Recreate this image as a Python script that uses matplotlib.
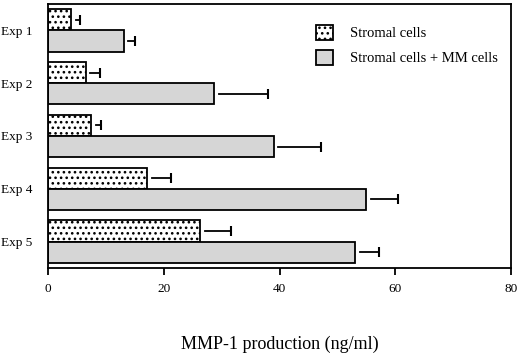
import matplotlib
matplotlib.use("Agg")
import matplotlib.pyplot as plt
import numpy as np
from matplotlib.patches import Patch

experiments = ["Exp 1", "Exp 2", "Exp 3", "Exp 4", "Exp 5"]
stromal = [4.0, 6.5, 7.5, 17.1, 26.3]
stromal_err = [1.5, 2.5, 1.6, 4.1, 5.3]
mm = [13.1, 28.7, 39.0, 55.0, 53.1]
mm_err = [2.0, 9.3, 8.1, 5.5, 4.1]
xticks = [0, 20, 40, 60, 80]

plt.rcParams['font.family'] = ['Liberation Serif', 'DejaVu Serif']
plt.rcParams['hatch.linewidth'] = 1.1

fig = plt.figure(figsize=(5.2, 3.53), dpi=100)
ax = fig.add_axes([0.0923, 0.2408, 0.8904, 0.7479])

y = np.arange(len(experiments))
h = 0.4
ax.barh(y - h / 2, stromal, height=h, color='white', edgecolor='black',
        hatch='...', linewidth=1.3, label='Stromal cells')
ax.barh(y + h / 2, mm, height=h, color='#d6d6d6', edgecolor='black',
        linewidth=1.3, label='Stromal cells + MM cells')

gap = 0.8
for yy, v, e in zip(y - h / 2, stromal, stromal_err):
    ax.plot([v + gap, v + e], [yy, yy], color='black', lw=1.3)
    ax.plot([v + e], [yy], marker='|', color='black', ms=7, mew=1.5)
for yy, v, e in zip(y + h / 2, mm, mm_err):
    ax.plot([v + gap, v + e], [yy, yy], color='black', lw=1.3)
    ax.plot([v + e], [yy], marker='|', color='black', ms=7, mew=1.5)

ax.set_xlim(0, 80)
ax.set_ylim(4.5, -0.5)
ax.set_xticks(xticks)
ax.set_xticklabels([str(t) for t in xticks], fontsize=9.5)
ax.set_yticks(y)
ax.set_yticklabels(experiments, fontsize=9.5)
ax.tick_params(axis='y', length=0, pad=11)
ax.tick_params(axis='x', length=5, width=1.3, pad=6)
for s in ax.spines.values():
    s.set_linewidth(1.3)

ax.set_xlabel("MMP-1 production (ng/ml)", fontsize=13, labelpad=29)

handles = [Patch(facecolor='white', edgecolor='black', hatch='...', linewidth=1.3),
           Patch(facecolor='#d6d6d6', edgecolor='black', linewidth=1.3)]
ax.legend(handles, ['Stromal cells', 'Stromal cells + MM cells'],
          loc='upper right', bbox_to_anchor=(1.0, 0.97), frameon=False,
          fontsize=10.5, handlelength=1.1, handleheight=1.2, handletextpad=1.2,
          labelspacing=0.65)

fig.savefig("out.png", dpi=100)
